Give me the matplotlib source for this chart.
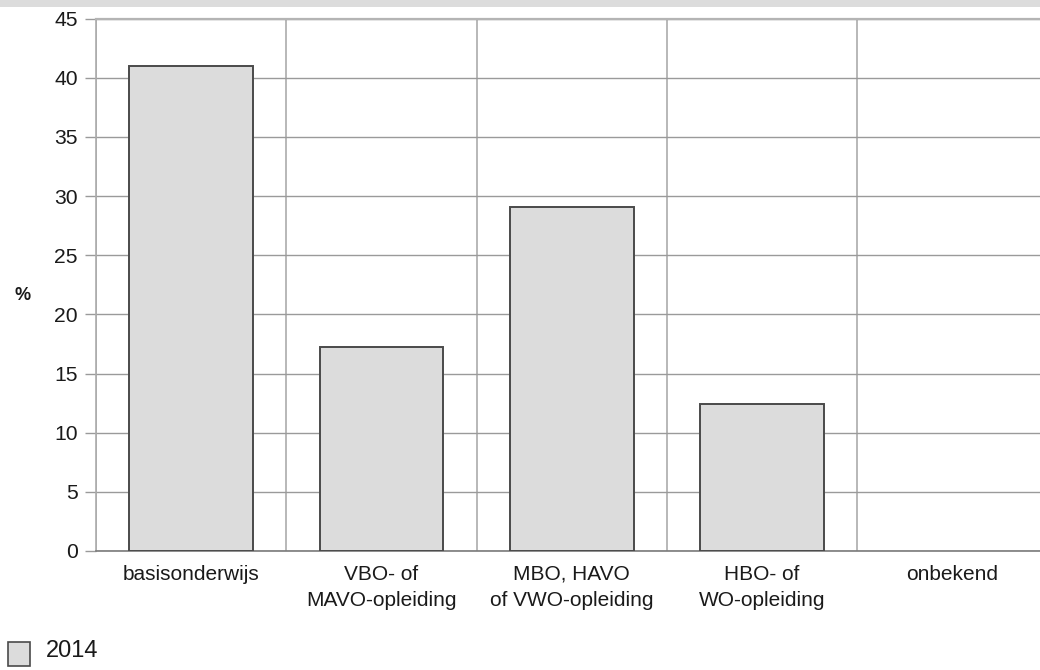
import matplotlib
matplotlib.use("Agg")
import matplotlib.pyplot as plt
from matplotlib.patches import Rectangle
import numpy as np

categories = ["basisonderwijs", "VBO- of\nMAVO-opleiding", "MBO, HAVO\nof VWO-opleiding",
              "HBO- of\nWO-opleiding", "onbekend"]
values_2014 = [41.0, 17.2, 29.1, 12.45, 0.0]
yticks = [0, 5, 10, 15, 20, 25, 30, 35, 40, 45]
series_label = "2014"

regular = ["Liberation Sans", "DejaVu Sans"]
plt.rcParams['font.family'] = regular

W, H = 1040, 670
fig = plt.figure(figsize=(W / 100, H / 100), dpi=100)
fig.patches.append(Rectangle((0, 1 - 7 / H), 1, 7 / H, transform=fig.transFigure,
                             facecolor="#dcdcdc", edgecolor="none", zorder=0))

left, right, top, bottom = 96, 1047.5, 18.5, 551
ax = fig.add_axes([left / W, 1 - bottom / H, (right - left) / W, (bottom - top) / H])

x = np.arange(len(categories))
vals = np.array(values_2014)
mask = vals > 0
ax.bar(x[mask], vals[mask], width=0.65, color="#dcdcdc", edgecolor="#4a4a4a",
       linewidth=1.4, zorder=3)

ax.set_xlim(-0.5, len(categories) - 0.5)
ax.set_ylim(0, 45)
ax.set_yticks(yticks)
ax.set_yticklabels([str(t) for t in yticks])
ax.set_xticks(x)
ax.set_xticklabels(categories, linespacing=1.45)
ax.set_xticks(np.arange(-0.5, len(categories)), minor=True)

ax.grid(axis="y", which="major", color="#9a9a9a", linewidth=1.0, zorder=1)
ax.grid(axis="x", which="minor", color="#ababab", linewidth=1.2, zorder=1)
ax.grid(axis="x", which="major", visible=False)

ax.tick_params(axis="x", which="both", length=0, pad=10, labelsize=15, colors="#1a1a1a")
ax.tick_params(axis="y", length=8, width=1.0, color="#9a9a9a", pad=5, labelsize=15.2,
               labelcolor="#1a1a1a")

ax.spines["right"].set_visible(False)
ax.spines["left"].set_color("#ababab")
ax.spines["left"].set_linewidth(1.2)
ax.spines["top"].set_color("#b4b4b4")
ax.spines["top"].set_linewidth(1.6)
ax.spines["bottom"].set_color("#7a7a7a")
ax.spines["bottom"].set_linewidth(1.2)

fig.text(23 / W, 1 - 295 / H, "%", ha="center", va="center", fontsize=13,
         fontweight="bold", color="#1a1a1a")

# legend
fig.patches.append(Rectangle((7.5 / W, 1 - 665.5 / H), 22.5 / W, 24 / H,
                             transform=fig.transFigure, facecolor="#dcdcdc",
                             edgecolor="#4a4a4a", linewidth=1.2))
fig.text(46 / W, 1 - 651 / H, series_label, ha="left", va="center", fontsize=17,
         color="#1a1a1a")

fig.savefig("out.png", dpi=100)
